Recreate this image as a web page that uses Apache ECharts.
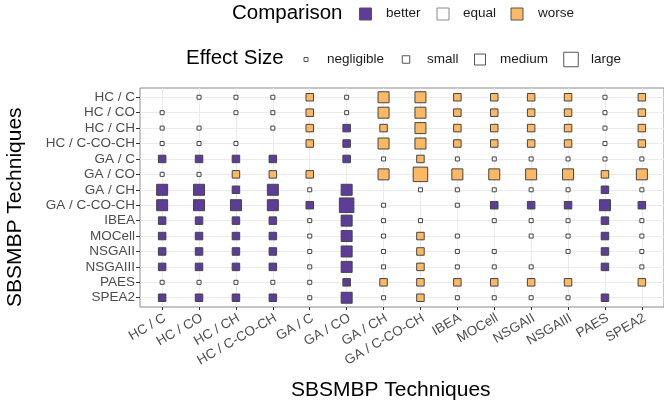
<!DOCTYPE html>
<html>
<head>
<meta charset="utf-8">
<script src="https://cdn.jsdelivr.net/npm/echarts@6/dist/echarts.min.js"></script>
<style>
  html, body { margin: 0; padding: 0; background: #fff; }
  #chart { width: 664px; height: 406px; }
</style>
</head>
<body>
<div id="chart"></div>
<script>
// techniques, same order on both axes (rows top -> bottom, columns left -> right)
var techniques = ['HC / C', 'HC / CO', 'HC / CH', 'HC / C-CO-CH', 'GA / C', 'GA / CO', 'GA / CH',
  'GA / C-CO-CH', 'IBEA', 'MOCell', 'NSGAII', 'NSGAIII', 'PAES', 'SPEA2'];

// comparison per row: b = better, e = equal, w = worse, - = none (diagonal)
var comparisonRows = [
  '-eeewewwwwwwew',
  'e-eewewwwwwwew',
  'ee-ewbwwwwwwew',
  'eee-wbwwwwwwew',
  'bbbb-beweeeeee',
  'eewww-wwwwwwww',
  'bbbbeb-eeeeebe',
  'bbbbbbe-ebbbbb',
  'bbbbebee-eeebe',
  'bbbbebewe-eebe',
  'bbbbebewee-ebe',
  'bbbbebeweee-be',
  'eeeeebwwwwww-w',
  'bbbbebeweeeeb-'
];

// effect size per row: n = negligible, s = small, m = medium, l = large
var effectRows = [
  '-nnnsnmmssssns',
  'n-nnsnmmssssns',
  'nn-nsssmssssns',
  'nnn-ssmmssssns',
  'ssss-snsnnnnnn',
  'nnsss-mlmmmmsm',
  'mmsmnm-nnnnnsn',
  'mmmmsln-nsssms',
  'ssssnmnn-nnnsn',
  'ssssnmnsn-nnsn',
  'ssssnmnsnn-nsn',
  'ssssnmnsnnn-sn',
  'nnnnnsssssss-s',
  'ssssnmnsnnnns-'
];

var compCodes = ['b', 'e', 'w'];
var compLabels = ['better', 'equal', 'worse'];
var effectCodes = ['n', 's', 'm', 'l'];
var effectLabels = ['negligible', 'small', 'medium', 'large'];

var compColors = { b: '#5e3c99', e: '#ffffff', w: '#fdb863' };
var effectPx = { n: 4, s: 7.5, m: 11, l: 14.5 };

var FONT = '"Liberation Sans", Arial, sans-serif';

var chart = echarts.init(document.getElementById('chart'));

var idx = techniques.map(function (t, i) { return i; });
// small nudge so rotated labels end where ggplot puts them
var xLabelAt = idx.map(function (i) { return i - 0.02; });

// build one series per comparison outcome
var series = compCodes.map(function (code, k) {
  var pts = [];
  for (var r = 0; r < techniques.length; r++) {
    for (var c = 0; c < techniques.length; c++) {
      if (comparisonRows[r][c] === code) {
        pts.push([c, r, effectRows[r][c]]);
      }
    }
  }
  return {
    name: compLabels[k],
    type: 'scatter',
    symbol: 'rect',
    symbolSize: function (v) { return effectPx[v[2]]; },
    itemStyle: { color: compColors[code], borderColor: '#444', borderWidth: 1, opacity: 1 },
    emphasis: { disabled: true },
    data: pts
  };
});

// legend drawn with graphics (mixed key sizes)
var graphics = [];
graphics.push({ type: 'text', left: 232, top: 3, style: { text: 'Comparison', font: '20.5px ' + FONT, fill: '#000' } });
var compKeyX = [359.5, 437, 511];
var compTextX = [386, 463, 538];
compCodes.forEach(function (code, k) {
  graphics.push({ type: 'rect', shape: { x: compKeyX[k], y: 8, width: 12, height: 12 },
    style: { fill: compColors[code], stroke: code === 'e' ? '#888' : '#555', lineWidth: 1 } });
  graphics.push({ type: 'text', left: compTextX[k], top: 6, style: { text: compLabels[k], font: '13.5px ' + FONT, fill: '#1a1a1a' } });
});
graphics.push({ type: 'text', left: 186, top: 48, style: { text: 'Effect Size', font: '20.5px ' + FONT, fill: '#000' } });
var effKeyX = [306, 406, 480, 571];
var effTextX = [327, 427, 500, 591];
effectCodes.forEach(function (code, k) {
  var s = effectPx[code];
  graphics.push({ type: 'rect', shape: { x: effKeyX[k] - s / 2, y: 59.5 - s / 2, width: s, height: s },
    style: { fill: '#fff', stroke: '#555', lineWidth: 1 } });
  graphics.push({ type: 'text', left: effTextX[k], top: 52, style: { text: effectLabels[k], font: '13.5px ' + FONT, fill: '#1a1a1a' } });
});
graphics.push({ type: 'text', left: 291, top: 380, style: { text: 'SBSMBP Techniques', font: '21px ' + FONT, fill: '#000' } });
graphics.push({ type: 'text', x: 5, y: 307, rotation: Math.PI / 2, style: { text: 'SBSMBP Techniques', font: '21px ' + FONT, fill: '#000' } });

chart.setOption({
  animation: false,
  backgroundColor: '#fff',
  grid: {
    left: 140, right: -4, top: 88, bottom: 99,
    show: true, borderColor: '#8a8a8a', borderWidth: 1, backgroundColor: '#fff'
  },
  xAxis: {
    type: 'value',
    min: -0.6, max: 13.6,
    axisLine: { show: false, onZero: false },
    axisTick: { show: true, length: 3, customValues: idx, lineStyle: { color: '#333' } },
    axisLabel: {
      customValues: xLabelAt, rotate: 30, margin: 4, verticalAlign: 'top',
      color: '#4d4d4d', fontFamily: FONT, fontSize: 13.5,
      formatter: function (v) { return techniques[Math.round(v)]; }
    },
    splitLine: { show: true, lineStyle: { color: '#ebebeb', width: 1 } }
  },
  yAxis: {
    type: 'value',
    inverse: true,
    min: -0.6, max: 13.6,
    axisLine: { show: false, onZero: false },
    axisTick: { show: true, length: 4, customValues: idx, lineStyle: { color: '#333' } },
    axisLabel: {
      customValues: idx, margin: 5,
      color: '#4d4d4d', fontFamily: FONT, fontSize: 13.5,
      formatter: function (v) { return techniques[Math.round(v)]; }
    },
    splitLine: { show: true, lineStyle: { color: '#ebebeb', width: 1 } }
  },
  graphic: graphics,
  series: series
});
</script>
</body>
</html>
